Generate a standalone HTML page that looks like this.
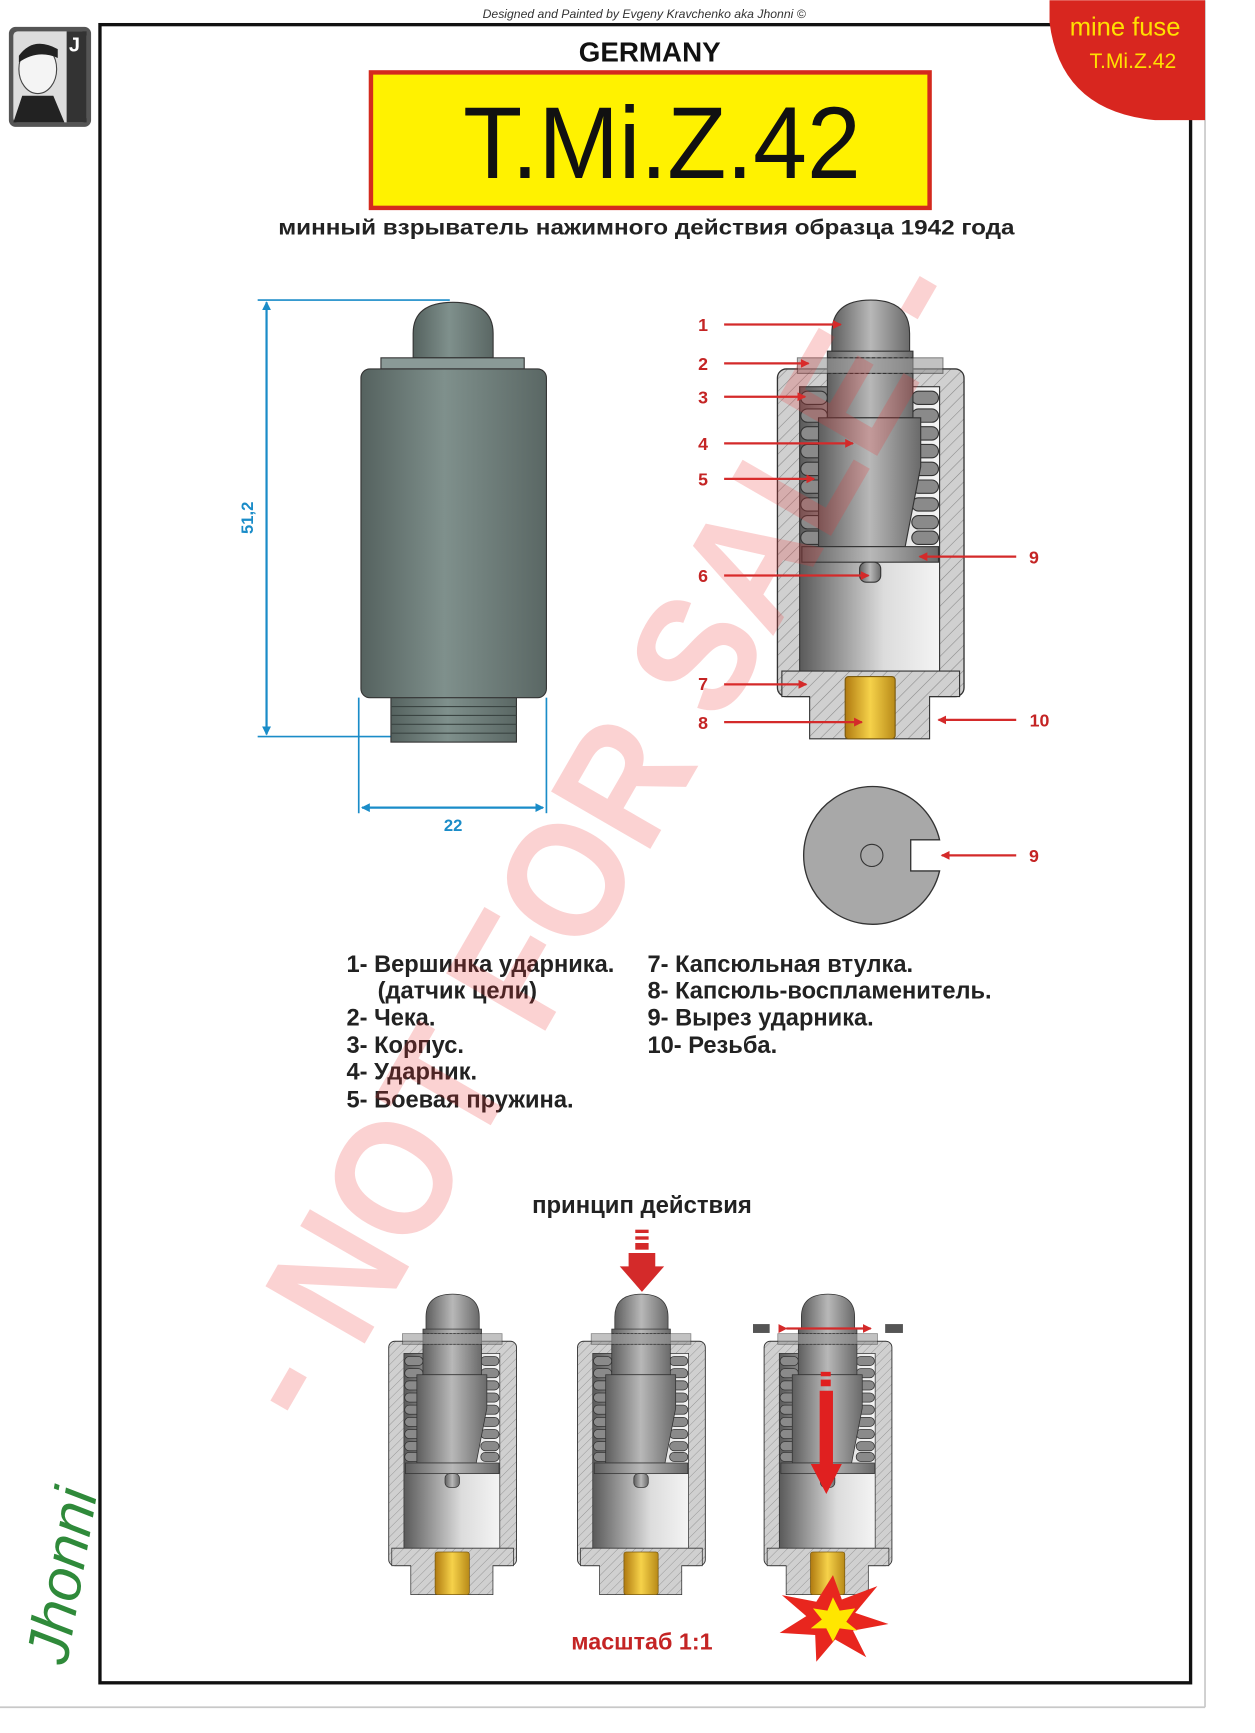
<!DOCTYPE html>
<html><head><meta charset="utf-8"><style>
html,body{margin:0;padding:0;background:#fff;}
svg{display:block;}
text{font-family:"Liberation Sans",sans-serif;}
</style></head><body>
<svg width="1255" height="1733" viewBox="0 0 1130 1560" xmlns="http://www.w3.org/2000/svg">
<defs>
<linearGradient id="gb" x1="0" x2="1"><stop offset="0" stop-color="#55625f"/><stop offset=".45" stop-color="#7f908c"/><stop offset="1" stop-color="#5a6764"/></linearGradient>
<linearGradient id="gs" x1="0" x2="1"><stop offset="0" stop-color="#5e5e5e"/><stop offset=".5" stop-color="#b8b8b8"/><stop offset="1" stop-color="#6a6a6a"/></linearGradient>
<linearGradient id="gw" x1="0" x2="1"><stop offset="0" stop-color="#5a5a5a"/><stop offset=".6" stop-color="#dcdcdc"/><stop offset="1" stop-color="#f4f4f4"/></linearGradient>
<linearGradient id="gg" x1="0" x2="1"><stop offset="0" stop-color="#b07a10"/><stop offset=".5" stop-color="#f6d24a"/><stop offset="1" stop-color="#b88a18"/></linearGradient>
<pattern id="hat" width="8" height="8" patternUnits="userSpaceOnUse" patternTransform="rotate(45)"><rect width="8" height="8" fill="#d0d0d0"/><line x1="0" y1="0" x2="0" y2="8" stroke="#888" stroke-width="1"/></pattern>
<marker id="ar" markerWidth="8" markerHeight="8" refX="7" refY="4" orient="auto" markerUnits="userSpaceOnUse"><path d="M0,0 L8,4 L0,8 z" fill="#d42a2a"/></marker>
<marker id="ab" markerWidth="8" markerHeight="8" refX="7" refY="4" orient="auto-start-reverse" markerUnits="userSpaceOnUse"><path d="M0,0 L8,4 L0,8 z" fill="#1a8cc8"/></marker>
<g id="sec">
  <rect x="700" y="332" width="168" height="295" rx="8" fill="url(#hat)" stroke="#333" stroke-width="1.2"/>
  <rect x="720" y="348" width="126" height="260" fill="url(#gw)" stroke="#333" stroke-width="1"/>
  <g fill="#8a8a8a" stroke="#333" stroke-width="1">
    <rect x="721" y="352" width="24" height="12" rx="6"/><rect x="721" y="368" width="24" height="12" rx="6"/><rect x="721" y="384" width="24" height="12" rx="6"/><rect x="721" y="400" width="24" height="12" rx="6"/><rect x="721" y="416" width="24" height="12" rx="6"/><rect x="721" y="432" width="24" height="12" rx="6"/><rect x="721" y="448" width="24" height="12" rx="6"/><rect x="721" y="464" width="24" height="12" rx="6"/><rect x="721" y="478" width="24" height="12" rx="6"/>
    <rect x="821" y="352" width="24" height="12" rx="6"/><rect x="821" y="368" width="24" height="12" rx="6"/><rect x="821" y="384" width="24" height="12" rx="6"/><rect x="821" y="400" width="24" height="12" rx="6"/><rect x="821" y="416" width="24" height="12" rx="6"/><rect x="821" y="432" width="24" height="12" rx="6"/><rect x="821" y="448" width="24" height="12" rx="6"/><rect x="821" y="464" width="24" height="12" rx="6"/><rect x="821" y="478" width="24" height="12" rx="6"/>
  </g>
  <path d="M749,318 L749,300 Q749,270 784,270 Q819,270 819,300 L819,318 z" fill="url(#gs)" stroke="#333"/>
  <rect x="745" y="316" width="77" height="60" fill="url(#gs)" stroke="#333"/>
  <line x1="745" y1="322" x2="822" y2="322" stroke="#333" stroke-dasharray="3,2"/>
  <line x1="745" y1="336" x2="822" y2="336" stroke="#333" stroke-dasharray="3,2"/>
  <rect x="718" y="322" width="131" height="14" fill="#9a9a9a" opacity=".6" stroke="#333"/>
  <path d="M737,376 L829,376 L829,420 L815,492 L737,492 z" fill="url(#gs)" stroke="#333"/>
  <rect x="722" y="492" width="123" height="14" fill="url(#gs)" stroke="#333"/>
  <rect x="774" y="506" width="19" height="18" rx="6" fill="url(#gs)" stroke="#333"/>
  <path d="M704,604 L864,604 L864,627 L837,627 L837,665 L729,665 L729,627 L704,627 z" fill="url(#hat)" stroke="#333"/>
  <rect x="761" y="609" width="45" height="56" rx="3" fill="url(#gg)" stroke="#7a5a10"/>
</g>
</defs>

<line x1="1085" y1="0" x2="1085" y2="1537" stroke="#c8c8c8" stroke-width="1.5"/>
<line x1="0" y1="1537" x2="1085" y2="1537" stroke="#c8c8c8" stroke-width="1.5"/>
<rect x="90" y="22" width="982" height="1493" fill="none" stroke="#111" stroke-width="3"/>

<text x="580" y="16" font-family="Liberation Serif,serif" font-style="italic" font-size="11" text-anchor="middle" fill="#333">Designed and Painted by Evgeny Kravchenko aka Jhonni ©</text>

<path d="M945,0 L1085,0 L1085,108 L1040,108 Q955,100 945,20 z" fill="#d8261f"/>
<text x="1013" y="32" font-size="23" fill="#ffe000" text-anchor="middle">mine fuse</text>
<text x="1020" y="61" font-size="19" fill="#ffe000" text-anchor="middle">T.Mi.Z.42</text>

<rect x="8" y="24" width="74" height="90" rx="6" fill="#555"/>
<rect x="12" y="28" width="66" height="82" rx="4" fill="#ddd"/>
<ellipse cx="34" cy="62" rx="17" ry="22" fill="#f4f4f4" stroke="#444"/>
<path d="M17,50 Q30,32 52,44 L52,52 Q34,44 17,56 z" fill="#222"/>
<path d="M12,110 L20,86 L48,86 L58,110 z" fill="#222"/>
<rect x="60" y="28" width="18" height="82" fill="#333"/>
<text x="62" y="46" font-family="Liberation Serif,serif" font-weight="bold" font-size="18" fill="#fff">J</text>

<text x="585" y="55" font-size="25" font-weight="bold" text-anchor="middle" fill="#111">GERMANY</text>
<rect x="334" y="65" width="503" height="122" fill="#fff200" stroke="#d42a1e" stroke-width="4"/>
<text x="596" y="160" font-size="92" text-anchor="middle" fill="#111" textLength="358" lengthAdjust="spacingAndGlyphs">T.Mi.Z.42</text>
<text x="582" y="211" font-size="19" font-weight="bold" text-anchor="middle" fill="#222" textLength="663" lengthAdjust="spacingAndGlyphs">минный взрыватель нажимного действия образца 1942 года</text>

<line x1="232" y1="270" x2="405" y2="270" stroke="#1a8cc8" stroke-width="1.5"/>
<line x1="232" y1="663" x2="355" y2="663" stroke="#1a8cc8" stroke-width="1.5"/>
<line x1="240" y1="272" x2="240" y2="661" stroke="#1a8cc8" stroke-width="2" marker-start="url(#ab)" marker-end="url(#ab)"/>
<text x="228" y="466" font-size="15" font-weight="bold" fill="#1a8cc8" text-anchor="middle" transform="rotate(-90 228 466)">51,2</text>
<line x1="323" y1="628" x2="323" y2="732" stroke="#1a8cc8" stroke-width="1.5"/>
<line x1="492" y1="628" x2="492" y2="732" stroke="#1a8cc8" stroke-width="1.5"/>
<line x1="326" y1="727" x2="489" y2="727" stroke="#1a8cc8" stroke-width="2" marker-start="url(#ab)" marker-end="url(#ab)"/>
<text x="408" y="748" font-size="15" font-weight="bold" fill="#1a8cc8" text-anchor="middle">22</text>

<path d="M372,322 L372,300 Q372,272 408,272 Q444,272 444,300 L444,322 z" fill="url(#gb)" stroke="#333"/>
<rect x="343" y="322" width="129" height="10" fill="#8a9a97" stroke="#333"/>
<rect x="352" y="626" width="113" height="42" fill="url(#gb)" stroke="#333"/>
<g stroke="#3a4442" stroke-width="1">
<line x1="352" y1="636" x2="465" y2="636"/><line x1="352" y1="644" x2="465" y2="644"/><line x1="352" y1="652" x2="465" y2="652"/><line x1="352" y1="660" x2="465" y2="660"/>
</g>
<rect x="325" y="332" width="167" height="296" rx="8" fill="url(#gb)" stroke="#333"/>

<use href="#sec"/>
<g stroke="#d42a2a" stroke-width="2" fill="none">
<line x1="652" y1="292" x2="757" y2="292" marker-end="url(#ar)"/>
<line x1="652" y1="327" x2="728" y2="327" marker-end="url(#ar)"/>
<line x1="652" y1="357" x2="725" y2="357" marker-end="url(#ar)"/>
<line x1="652" y1="399" x2="768" y2="399" marker-end="url(#ar)"/>
<line x1="652" y1="431" x2="733" y2="431" marker-end="url(#ar)"/>
<line x1="652" y1="518" x2="782" y2="518" marker-end="url(#ar)"/>
<line x1="652" y1="616" x2="726" y2="616" marker-end="url(#ar)"/>
<line x1="652" y1="650" x2="776" y2="650" marker-end="url(#ar)"/>
<line x1="915" y1="501" x2="828" y2="501" marker-end="url(#ar)"/>
<line x1="915" y1="648" x2="845" y2="648" marker-end="url(#ar)"/>
<line x1="915" y1="770" x2="848" y2="770" marker-end="url(#ar)"/>
</g>
<g font-size="16" font-weight="bold" fill="#c42424" text-anchor="middle">
<text x="633" y="298">1</text><text x="633" y="333">2</text><text x="633" y="363">3</text><text x="633" y="405">4</text><text x="633" y="437">5</text><text x="633" y="524">6</text><text x="633" y="621">7</text><text x="633" y="656">8</text>
<text x="931" y="507">9</text><text x="936" y="654">10</text><text x="931" y="776">9</text>
</g>

<path d="M846,756 A62,62 0 1 0 846,784 L820,784 L820,756 z" fill="#a8a8a8" stroke="#333" stroke-width="1.2"/>
<circle cx="785" cy="770" r="10" fill="none" stroke="#333"/>

<g font-size="21.3" font-weight="bold" fill="#222">
<text x="312" y="875">1- Вершинка ударника.</text>
<text x="340" y="899">(датчик цели)</text>
<text x="312" y="923">2- Чека.</text>
<text x="312" y="948">3- Корпус.</text>
<text x="312" y="972">4- Ударник.</text>
<text x="312" y="997">5- Боевая пружина.</text>
<text x="583" y="875">7- Капсюльная втулка.</text>
<text x="583" y="899">8- Капсюль-воспламенитель.</text>
<text x="583" y="923">9- Вырез ударника.</text>
<text x="583" y="948">10- Резьба.</text>
</g>

<text x="578" y="1092" font-size="21.5" font-weight="bold" fill="#222" text-anchor="middle">принцип действия</text>
<g fill="#d42a2a">
<rect x="572" y="1107" width="12" height="3"/><rect x="572" y="1113" width="12" height="3"/><rect x="572" y="1119" width="12" height="6"/>
<path d="M566,1128 L590,1128 L590,1140 L598,1140 L578,1163 L558,1140 L566,1140 z"/>
</g>
<g transform="translate(350 1165) scale(0.685) translate(-700 -270)"><use href="#sec"/></g>
<g transform="translate(520 1165) scale(0.685) translate(-700 -270)"><use href="#sec"/></g>
<g transform="translate(688 1165) scale(0.685) translate(-700 -270)"><use href="#sec"/></g>
<rect x="678" y="1192" width="15" height="8" fill="#555"/>
<rect x="797" y="1192" width="16" height="8" fill="#555"/>
<line x1="708" y1="1196" x2="784" y2="1196" stroke="#d42a2a" stroke-width="2" marker-start="url(#ar)" marker-end="url(#ar)"/>
<g fill="#e02020">
<rect x="739" y="1235" width="9" height="4"/><rect x="739" y="1242" width="9" height="6"/>
<path d="M738,1252 L750,1252 L750,1318 L758,1318 L744,1345 L730,1318 L738,1318 z"/>
</g>
<path d="M750,1418 L758,1440 L790,1428 L770,1452 L800,1462 L768,1468 L780,1492 L752,1476 L735,1496 L734,1472 L702,1470 L726,1455 L704,1436 L735,1442 z" fill="#e8261e"/>
<path d="M750,1438 L756,1450 L770,1448 L762,1460 L772,1468 L756,1466 L750,1478 L744,1466 L730,1466 L740,1458 L732,1448 L745,1450 z" fill="#ffe600"/>
<text x="578" y="1485" font-size="21" font-weight="bold" fill="#c42424" text-anchor="middle">масштаб 1:1</text>

<text x="60" y="1500" font-family="Liberation Serif,serif" font-style="italic" font-size="54" fill="#2f8a3a" transform="rotate(-80 60 1500)">Jhonni</text>

<text x="540" y="800" font-size="150" font-weight="bold" fill="#e33" fill-opacity="0.22" text-anchor="middle" transform="rotate(-60 540 757)" textLength="1180" lengthAdjust="spacingAndGlyphs">- NOT FOR SALE -</text>
</svg>
</body></html>
